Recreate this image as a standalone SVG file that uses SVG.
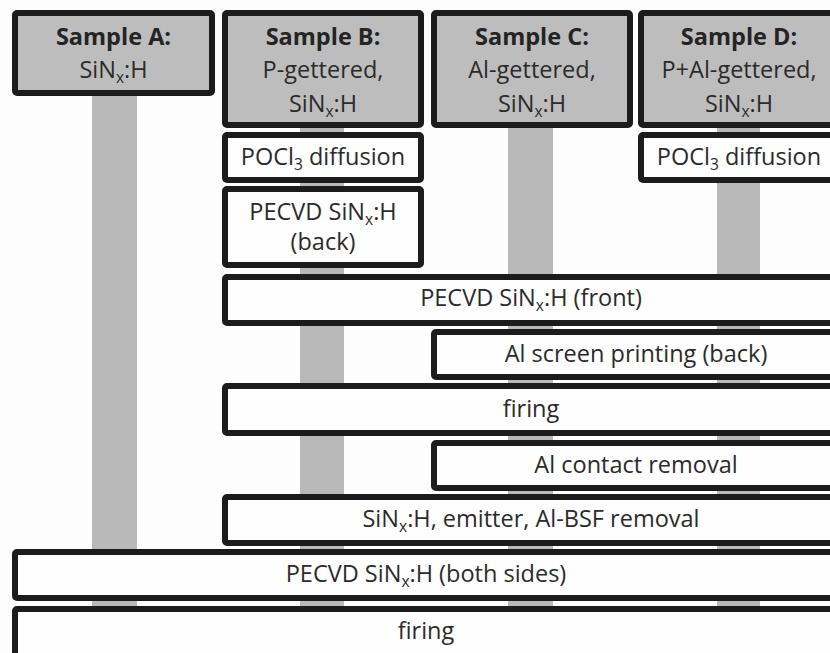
<svg xmlns="http://www.w3.org/2000/svg" width="830" height="653" viewBox="0 0 830 653">
  <style>
    .bar { fill: #b9b9b9; }
    .box { fill: #fefefe; stroke: #1c1c1c; stroke-width: 6; }
    .head { fill: #bdbdbd; stroke: #1c1c1c; stroke-width: 6; }
    text { font-family: "Open Sans", "Noto Sans", "Liberation Sans", sans-serif; font-size: 23.5px; fill: #2b2b2b; text-anchor: middle; }
    .b { font-weight: bold; fill: #242424; }
    .sub { font-size: 15.5px; }
  </style>
  <rect width="830" height="653" fill="#fdfdfd"/>

  <!-- process-flow lanes, one per sample, running behind the step boxes -->
  <g id="connectors">
    <rect class="bar" x="92" y="90" width="45" height="570"/>
    <rect class="bar" x="300" y="120" width="44" height="540"/>
    <rect class="bar" x="508" y="120" width="45" height="540"/>
    <rect class="bar" x="717" y="120" width="43" height="540"/>
  </g>

  <!-- sample headers -->
  <g id="sampleA">
    <rect class="head" x="15" y="13" width="197" height="80" rx="2"/>
    <text class="b" x="113.5" y="45">Sample A:</text>
    <text x="113.5" y="78">SiN<tspan class="sub" dy="5">x</tspan><tspan dy="-5">:H</tspan></text>
  </g>
  <g id="sampleB">
    <rect class="head" x="225" y="13" width="196" height="112" rx="2"/>
    <text class="b" x="323" y="45">Sample B:</text>
    <text x="323" y="78">P-gettered,</text>
    <text x="323" y="112">SiN<tspan class="sub" dy="5">x</tspan><tspan dy="-5">:H</tspan></text>
  </g>
  <g id="sampleC">
    <rect class="head" x="434" y="13" width="196" height="112" rx="2"/>
    <text class="b" x="532" y="45">Sample C:</text>
    <text x="532" y="78">Al-gettered,</text>
    <text x="532" y="112">SiN<tspan class="sub" dy="5">x</tspan><tspan dy="-5">:H</tspan></text>
  </g>
  <g id="sampleD">
    <rect class="head" x="641" y="13" width="196" height="112" rx="2"/>
    <text class="b" x="739" y="45">Sample D:</text>
    <text x="739" y="78">P+Al-gettered,</text>
    <text x="739" y="112">SiN<tspan class="sub" dy="5">x</tspan><tspan dy="-5">:H</tspan></text>
  </g>

  <!-- process steps -->
  <g id="pocl3B">
    <rect class="box" x="225" y="135" width="196" height="45" rx="2"/>
    <text x="323" y="165">POCl<tspan class="sub" dy="5">3</tspan><tspan dy="-5"> diffusion</tspan></text>
  </g>
  <g id="pocl3D">
    <rect class="box" x="641" y="135" width="196" height="45" rx="2"/>
    <text x="739" y="165">POCl<tspan class="sub" dy="5">3</tspan><tspan dy="-5"> diffusion</tspan></text>
  </g>
  <g id="pecvdBack">
    <rect class="box" x="225" y="189" width="196" height="76" rx="2"/>
    <text x="323" y="220">PECVD SiN<tspan class="sub" dy="5">x</tspan><tspan dy="-5">:H</tspan></text>
    <text x="323" y="250">(back)</text>
  </g>
  <g id="pecvdFront">
    <rect class="box" x="225" y="277" width="612" height="46" rx="2"/>
    <text x="531" y="306">PECVD SiN<tspan class="sub" dy="5">x</tspan><tspan dy="-5">:H (front)</tspan></text>
  </g>
  <g id="alPrint">
    <rect class="box" x="434" y="332" width="403" height="45" rx="2"/>
    <text x="636" y="362">Al screen printing (back)</text>
  </g>
  <g id="firing1">
    <rect class="box" x="225" y="386" width="612" height="47" rx="2"/>
    <text x="531" y="417">firing</text>
  </g>
  <g id="alRemoval">
    <rect class="box" x="434" y="443" width="403" height="45" rx="2"/>
    <text x="636" y="473">Al contact removal</text>
  </g>
  <g id="etchBack">
    <rect class="box" x="225" y="497" width="612" height="46" rx="2"/>
    <text x="531" y="527">SiN<tspan class="sub" dy="5">x</tspan><tspan dy="-5">:H, emitter, Al-BSF removal</tspan></text>
  </g>
  <g id="pecvdBoth">
    <rect class="box" x="15" y="552" width="822" height="46" rx="2"/>
    <text x="426" y="582">PECVD SiN<tspan class="sub" dy="5">x</tspan><tspan dy="-5">:H (both sides)</tspan></text>
  </g>
  <g id="firing2">
    <rect class="box" x="15" y="609" width="822" height="60" rx="2"/>
    <text x="426" y="639">firing</text>
  </g>
</svg>
